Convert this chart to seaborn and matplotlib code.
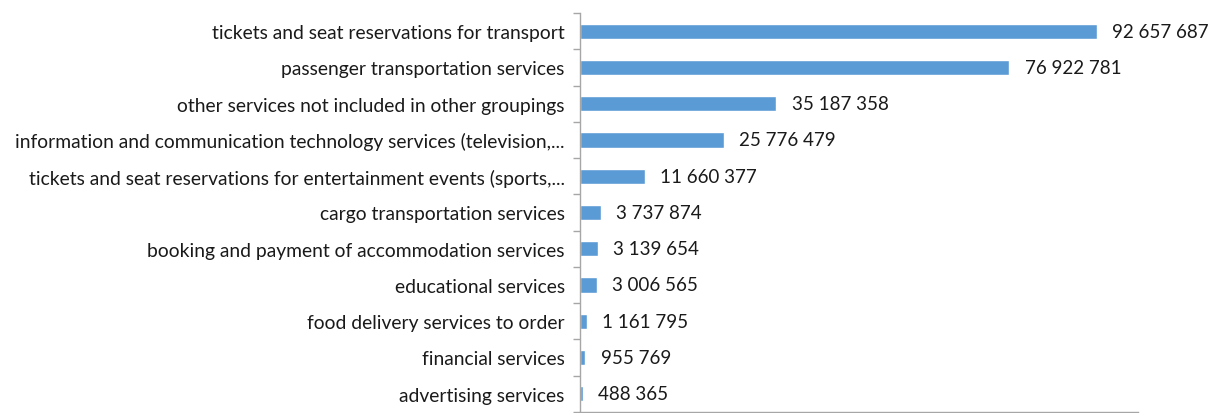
import matplotlib.pyplot as plt
import pandas as pd
import seaborn as sns
from matplotlib.ticker import FixedLocator

# -----------------------------
# Data
# -----------------------------

CATEGORIES = [
    "tickets and seat reservations for transport",
    "passenger transportation services",
    "other services not included in other groupings",
    "information and communication technology services (television,...",
    "tickets and seat reservations for entertainment events (sports,...",
    "cargo transportation services",
    "booking and payment of accommodation services",
    "educational services",
    "food delivery services to order",
    "financial services",
    "advertising services",
]

VALUES = [
    92657687,
    76922781,
    35187358,
    25776479,
    11660377,
    3737874,
    3139654,
    3006565,
    1161795,
    955769,
    488365,
]

BAR_COLOR = "#5B9BD5"
AXIS_COLOR = "#A6A6A6"
TEXT_COLOR = "#1A1A1A"

sns.set_style("white")
plt.rcParams["font.family"] = ["Lato", "DejaVu Sans"]


def main() -> None:
    df = pd.DataFrame({"category": CATEGORIES, "value": VALUES})

    fig = plt.figure(figsize=(12.11, 4.14), dpi=100)
    ax = fig.add_axes([0.479, 0.003, 0.4607, 0.963])

    sns.barplot(
        data=df,
        x="value",
        y="category",
        color=BAR_COLOR,
        width=0.42,
        saturation=1,
        ax=ax,
    )

    ax.set_xlim(0, 100_000_000)
    ax.set_ylim(len(CATEGORIES) - 0.5, -0.5)

    for i, v in enumerate(VALUES):
        ax.annotate(
            f"{v:,}".replace(",", " "),
            xy=(v, i),
            xytext=(11, 0),
            textcoords="offset points",
            va="center",
            ha="left",
            fontsize=13.5,
            color=TEXT_COLOR,
        )

    ax.set_xlabel("")
    ax.set_ylabel("")
    ax.set_xticks([])

    ax.tick_params(axis="y", which="major", length=0, pad=11,
                   labelsize=13.9, labelcolor=TEXT_COLOR)
    ax.yaxis.set_minor_locator(
        FixedLocator([i - 0.5 for i in range(len(CATEGORIES) + 1)])
    )
    ax.tick_params(axis="y", which="minor", length=5, width=1,
                   color=AXIS_COLOR, left=True)

    for side in ["top", "right"]:
        ax.spines[side].set_visible(False)
    for side in ["left", "bottom"]:
        ax.spines[side].set_color(AXIS_COLOR)
        ax.spines[side].set_linewidth(1)

    fig.savefig("out.png", dpi=100)
    plt.close(fig)


if __name__ == "__main__":
    main()
